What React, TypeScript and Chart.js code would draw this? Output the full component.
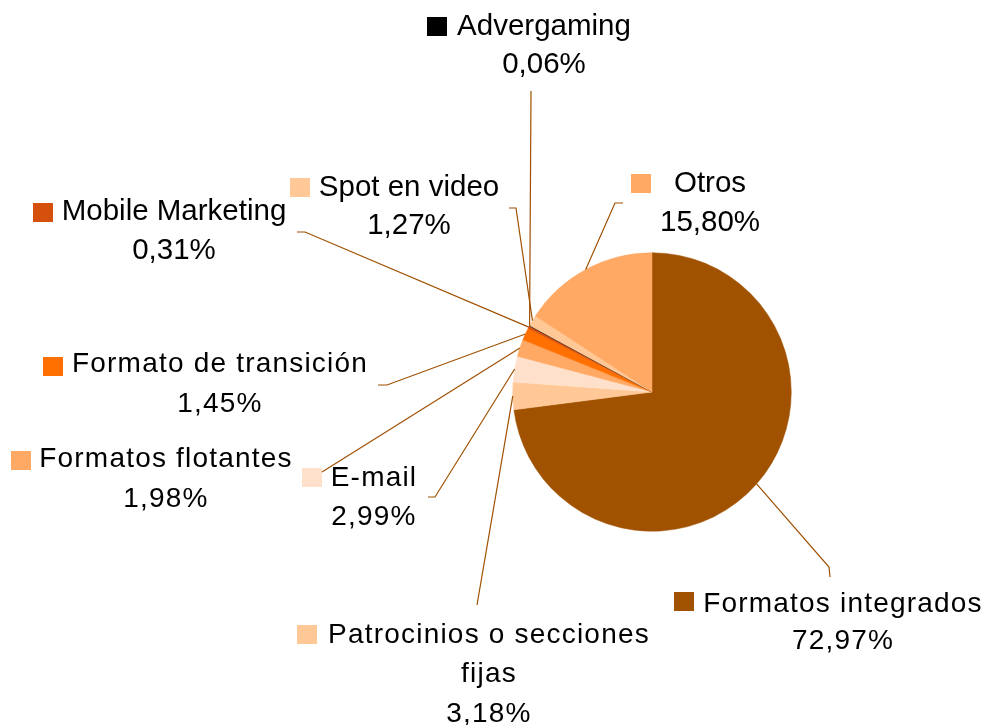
import React, { useEffect, useRef } from 'react';
import { Chart, registerables } from 'chart.js';

Chart.register(...registerables);

// ---- Data ----
const categories: string[] = [
  'Formatos integrados',
  'Patrocinios o secciones fijas',
  'E-mail',
  'Formatos flotantes',
  'Formato de transición',
  'Mobile Marketing',
  'Advergaming',
  'Spot en video',
  'Otros',
];
const values: number[] = [72.97, 3.18, 2.99, 1.98, 1.45, 0.31, 0.06, 1.27, 15.8];
const colors: string[] = [
  '#A05200',
  '#FFC896',
  '#FFE0CA',
  '#FFA964',
  '#FF7000',
  '#D4500C',
  '#000000',
  '#FFC896',
  '#FFA964',
];

// ---- Label layout (annotation placement, in category order) ----
type Layout = {
  lines: string[];
  cx: number;
  baselines: number[];
  sqX: number;
  sqY: number;
  upper: boolean;
  leader: [number, number][];
};
const layouts: Layout[] = [
  { lines: ['Formatos integrados'], cx: 843, baselines: [612, 649], sqX: 674, sqY: 592, upper: false, leader: [[830, 577], [829, 567]] },
  { lines: ['Patrocinios o secciones', 'fijas'], cx: 489, baselines: [643, 682, 722], sqX: 297, sqY: 625, upper: false, leader: [[477, 605]] },
  { lines: ['E-mail'], cx: 374, baselines: [486, 525], sqX: 302, sqY: 468, upper: false, leader: [[428, 497], [435, 497]] },
  { lines: ['Formatos flotantes'], cx: 166, baselines: [467, 507], sqX: 11, sqY: 451, upper: false, leader: [[322, 472]] },
  { lines: ['Formato de transición'], cx: 220, baselines: [372, 412], sqX: 43, sqY: 357, upper: false, leader: [[378, 385], [387, 385]] },
  { lines: ['Mobile Marketing'], cx: 174, baselines: [220, 259], sqX: 33, sqY: 203, upper: true, leader: [[297, 232], [305, 232]] },
  { lines: ['Advergaming'], cx: 544, baselines: [35, 73], sqX: 427, sqY: 17, upper: true, leader: [[531, 91]] },
  { lines: ['Spot en video'], cx: 409, baselines: [196, 234], sqX: 290, sqY: 178, upper: true, leader: [[509, 208], [516, 208]] },
  { lines: ['Otros'], cx: 710, baselines: [192, 231], sqX: 631, sqY: 174, upper: true, leader: [[623, 203], [615, 203]] },
];

const pct = (v: number) => v.toFixed(2).replace('.', ',') + '%';

const labelPlugin = {
  id: 'pieLabels',
  afterDraw(chart: any) {
    const ctx: CanvasRenderingContext2D = chart.ctx;
    const meta = chart.getDatasetMeta(0);
    meta.data.forEach((arc: any, i: number) => {
      const L = layouts[i];
      if (!L) return;
      const p = arc.getProps(['x', 'y', 'startAngle', 'endAngle', 'outerRadius'], true);
      const mid = (p.startAngle + p.endAngle) / 2;
      const ex = p.x + Math.cos(mid) * p.outerRadius;
      const ey = p.y + Math.sin(mid) * p.outerRadius;
      ctx.save();
      ctx.strokeStyle = '#A05000';
      ctx.lineWidth = 1.2;
      ctx.beginPath();
      L.leader.forEach(([px, py], k) => (k === 0 ? ctx.moveTo(px, py) : ctx.lineTo(px, py)));
      ctx.lineTo(ex, ey);
      ctx.stroke();

      const fontSize = L.upper ? 29.5 : 28;
      ctx.font = `${fontSize}px "Liberation Sans", Arial, sans-serif`;
      (ctx as any).letterSpacing = L.upper ? '0px' : '1.2px';
      ctx.fillStyle = '#000000';
      ctx.textAlign = 'center';
      ctx.textBaseline = 'alphabetic';
      const texts = [...L.lines, pct(values[i])];
      texts.forEach((t, k) => ctx.fillText(t, L.cx, L.baselines[k]));
      ctx.fillStyle = colors[i];
      ctx.fillRect(L.sqX, L.sqY, 20, 19);
      ctx.restore();
    });
  },
};

export default function App() {
  const ref = useRef<HTMLCanvasElement | null>(null);
  useEffect(() => {
    if (!ref.current) return;
    const chart = new Chart(ref.current, {
      type: 'pie',
      data: {
        labels: categories,
        datasets: [
          {
            data: values,
            backgroundColor: colors,
            borderColor: colors,
            borderWidth: 0.5,
          },
        ],
      },
      options: {
        responsive: false,
        animation: false,
        layout: { padding: { left: 512.5, right: 198.5, top: 252.5, bottom: 193.5 } },
        plugins: {
          legend: { display: false },
          tooltip: { enabled: false },
        },
      },
      plugins: [labelPlugin],
    });
    return () => chart.destroy();
  }, []);
  return (
    <div style={{ position: 'absolute', left: 0, top: 0, width: 990, height: 725, background: '#ffffff' }}>
      <canvas ref={ref} width={990} height={725} />
    </div>
  );
}
